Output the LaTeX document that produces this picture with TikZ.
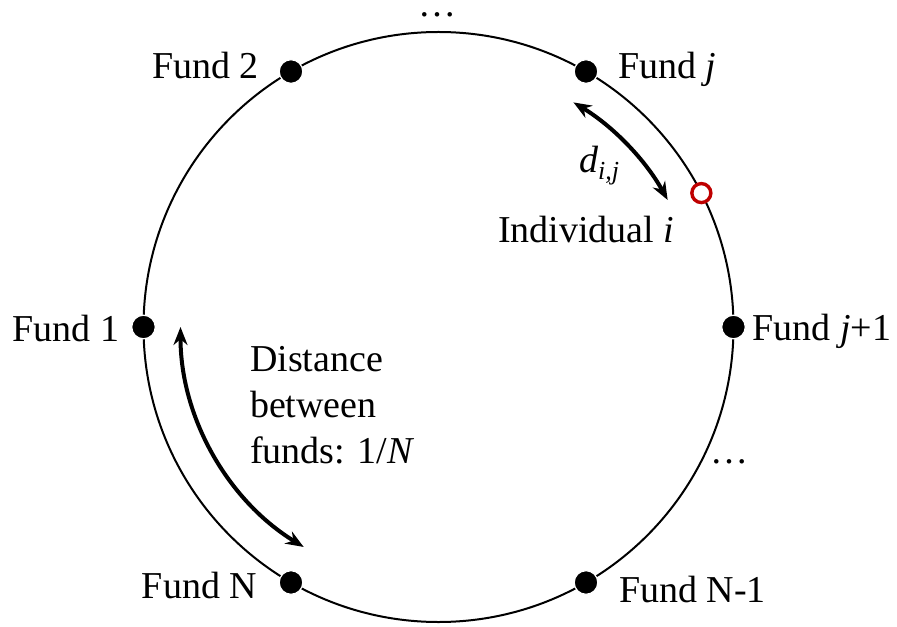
\documentclass[tikz,border=0pt]{standalone}
\usepackage{fontspec}
\setmainfont{Liberation Serif}
\usepackage{tikz}
\usetikzlibrary{arrows.meta,calc}
\tikzset{
  >={Stealth[length=9pt,width=7pt]},
  fund/.style={circle,fill=black,draw=white,line width=0.6pt,minimum size=11.8pt,inner sep=0pt},
  indiv/.style={circle,fill=white,draw=red!75!black,line width=1.7pt,minimum size=9.5pt,inner sep=0pt},
  lbl/.style={inner sep=0pt,font=\fontsize{19}{23}\selectfont},
  dist/.style={<->,line width=2pt},
  every picture/.style={line width=1pt},
}
\begin{document}
\begin{tikzpicture}[x=0.5pt,y=0.5pt]
\useasboundingbox (-438.5,-299) rectangle (458.5,327);
\def\R{295}
\draw (0,0) circle[radius=\R];
\node[fund] (fj1) at (0:\R){}; \node[fund] (fj) at (60:\R){}; \node[fund] (f2) at (120:\R){};
\node[fund] (f1) at (180:\R){}; \node[fund] (fN) at (240:\R){}; \node[fund] (fN1) at (300:\R){};
\node[indiv] (ind) at (27:\R){};
% fund labels
\node[lbl,anchor=base east] (t2) at ($(f2)+(-31,-7)$) {Fund 2};
\node[lbl,anchor=base west] (tj) at ($(fj)+(31,-7)$) {Fund \textit{j}};
\node[lbl,anchor=base east] (t1) at ($(f1)+(-23,-14)$) {Fund 1};
\node[lbl,anchor=base west] (tj1) at ($(fj1)+(18,-13)$) {Fund \textit{j}+1};
\node[lbl,anchor=base east] (tN) at ($(fN)+(-33,-16)$) {Fund N};
\node[lbl,anchor=base west] (tN1) at ($(fN1)+(32,-20)$) {Fund N-1};
\node[lbl,anchor=base,text height=3pt] (dtop) at (-1.5,310) {\ldots};
\node[lbl,anchor=base] (dbot) at (291,-136) {\ldots};
% distances
\coordinate (a1) at (180:258); \coordinate (b1) at (59:262);
\draw[dist] (a1) arc[start angle=180,end angle=238.5,radius=258];
\draw[dist] (b1) arc[start angle=59,end angle=29,radius=262];
\node[lbl,anchor=base west] (dij) at (139.5,154) {\textit{d}\raisebox{-0.35ex}{\fontsize{13}{13}\selectfont\textit{i,j}}};
\node[lbl,anchor=base west] (tind) at (58.5,84) {Individual \textit{i}};
\node[lbl,anchor=north west,align=left] (tdist) at (-189.5,-18) {Distance\\between\\funds: 1/\textit{N}};
\end{tikzpicture}
\end{document}
